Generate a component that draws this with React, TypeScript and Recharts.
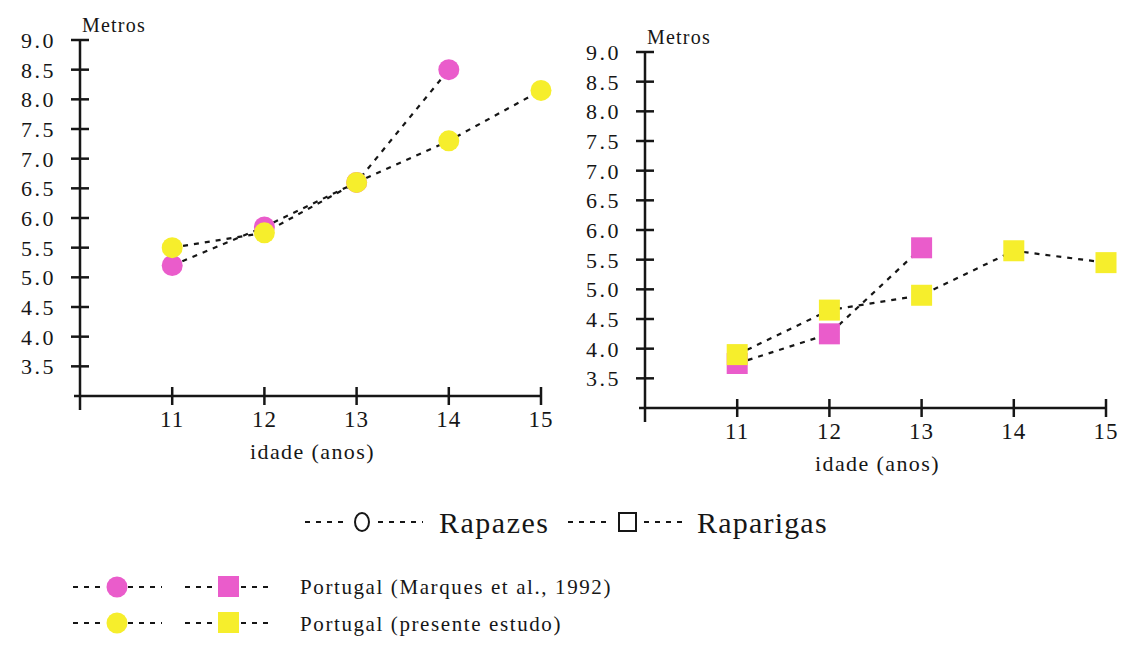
import React from "react";
import { LineChart, Line, XAxis, YAxis } from "recharts";

const ages = [11, 12, 13, 14, 15];

// Rapazes (boys), metres
const rapazesMarques = [5.2, 5.85, 6.6, 8.5, null];
const rapazesPresente = [5.5, 5.75, 6.6, 7.3, 8.15];

// Raparigas (girls), metres
const raparigasMarques = [3.75, 4.25, 5.7, null, null];
const raparigasPresente = [3.9, 4.65, 4.9, 5.65, 5.45];

const xTicks = [10, 11, 12, 13, 14, 15];
const yTicks = [3, 3.5, 4, 4.5, 5, 5.5, 6, 6.5, 7, 7.5, 8, 8.5, 9];

const PINK = "#ea5ccb";
const YELLOW = "#f6ee2c";
const INK = "#161616";
const FONT = "Liberation Serif, Tinos, Times New Roman, serif";

const toRows = (a: (number | null)[], b: (number | null)[]) =>
  ages.map((age, i) => ({ age, marques: a[i], presente: b[i] }));

const rapazesData = toRows(rapazesMarques, rapazesPresente);
const raparigasData = toRows(raparigasMarques, raparigasPresente);

const txt = (size: number, spacing: number) => ({
  fontFamily: FONT,
  fontSize: size,
  letterSpacing: spacing,
  fill: INK,
});

function YTick({ x, y, payload }: any) {
  if (payload.value === 3) {
    return <line x1={x - 6} x2={x} y1={y} y2={y} stroke={INK} strokeWidth={2.5} />;
  }
  return (
    <g>
      <line x1={x - 9} x2={x + 9} y1={y} y2={y} stroke={INK} strokeWidth={2.5} />
      <text x={x - 24} y={y} dy="0.36em" textAnchor="end" style={txt(22, 2.5)}>
        {payload.value.toFixed(1)}
      </text>
    </g>
  );
}

function XTick({ x, y, payload }: any) {
  if (payload.value === 10) {
    return <line x1={x} x2={x} y1={y} y2={y + 14} stroke={INK} strokeWidth={2.5} />;
  }
  return (
    <g>
      <line x1={x} x2={x} y1={y - 9} y2={y + 9} stroke={INK} strokeWidth={2.5} />
      <text x={x} y={y + 31} textAnchor="middle" style={txt(23, 1)}>
        {payload.value}
      </text>
    </g>
  );
}

const circleDot = (color: string) => (props: any) => {
  const { cx, cy, value, index } = props;
  if (value == null || cx == null) return <g key={index} />;
  return <circle key={index} cx={cx} cy={cy} r={10.5} fill={color} />;
};

const squareDot = (color: string) => (props: any) => {
  const { cx, cy, value, index } = props;
  if (value == null || cx == null) return <g key={index} />;
  return <rect key={index} x={cx - 10.5} y={cy - 10.5} width={21} height={21} fill={color} />;
};

const metrosLabel = (dx: number, dy: number) => (props: any) => {
  const vb = props.viewBox;
  return (
    <text x={vb.x + vb.width + dx} y={vb.y + dy} style={txt(20, 1.2)}>
      Metros
    </text>
  );
};

const xTitle = (dy: number) => (props: any) => {
  const vb = props.viewBox;
  return (
    <text x={vb.x + vb.width / 2 + 2} y={vb.y + dy} textAnchor="middle" style={txt(22, 1.4)}>
      idade (anos)
    </text>
  );
};

interface PanelProps {
  data: { age: number; marques: number | null; presente: number | null }[];
  width: number;
  height: number;
  top: number;
  right: number;
  xAxisHeight: number;
  square?: boolean;
}

function Panel({ data, width, height, top, right, xAxisHeight, square }: PanelProps) {
  const dot = square ? squareDot : circleDot;
  return (
    <LineChart
      width={width}
      height={height}
      data={data}
      margin={{ top, right, bottom: 0, left: 0 }}
    >
      <XAxis
        dataKey="age"
        type="number"
        domain={[10, 15]}
        ticks={xTicks}
        height={xAxisHeight}
        tickSize={0}
        tickMargin={0}
        tickLine={false}
        axisLine={{ stroke: INK, strokeWidth: 2.5 }}
        tick={<XTick />}
        interval={0}
        label={{ content: xTitle(63) }}
      />
      <YAxis
        type="number"
        domain={[3, 9]}
        ticks={yTicks}
        width={80}
        tickSize={0}
        tickMargin={0}
        tickLine={false}
        axisLine={{ stroke: INK, strokeWidth: 2.5 }}
        tick={<YTick />}
        interval={0}
        label={{ content: metrosLabel(2, -8) }}
      />
      <Line
        dataKey="marques"
        type="linear"
        stroke={INK}
        strokeWidth={2.2}
        strokeDasharray="5 6"
        dot={dot(PINK)}
        activeDot={false}
        isAnimationActive={false}
      />
      <Line
        dataKey="presente"
        type="linear"
        stroke={INK}
        strokeWidth={2.2}
        strokeDasharray="5 6"
        dot={dot(YELLOW)}
        activeDot={false}
        isAnimationActive={false}
      />
    </LineChart>
  );
}

function Dashes({ x1, x2, y }: { x1: number; x2: number; y: number }) {
  return (
    <line x1={x1} x2={x2} y1={y} y2={y} stroke={INK} strokeWidth={2.2} strokeDasharray="5 6" />
  );
}

function Legend() {
  return (
    <svg width={1124} height={160} style={{ position: "absolute", left: 0, top: 485 }}>
      <g transform="translate(0,-485)">
        <Dashes x1={305} x2={348} y={522} />
        <ellipse cx={362} cy={522} rx={7} ry={9} fill="none" stroke={INK} strokeWidth={2} />
        <Dashes x1={378} x2={423} y={522} />
        <text x={439} y={533} style={txt(30, 1.5)}>
          Rapazes
        </text>
        <Dashes x1={568} x2={612} y={522} />
        <rect x={619} y={513} width={17} height={18} fill="none" stroke={INK} strokeWidth={2} />
        <Dashes x1={644} x2={686} y={522} />
        <text x={697} y={533} style={txt(30, 1.2)}>
          Raparigas
        </text>

        <Dashes x1={73} x2={100} y={587} />
        <circle cx={117} cy={587} r={10.5} fill={PINK} />
        <Dashes x1={128} x2={162} y={587} />
        <Dashes x1={185} x2={212} y={587} />
        <rect x={218} y={576} width={21} height={21} fill={PINK} />
        <Dashes x1={241} x2={274} y={587} />
        <text x={300} y={594} style={txt(21, 1.6)}>
          Portugal (Marques et al., 1992)
        </text>

        <Dashes x1={73} x2={100} y={623} />
        <circle cx={117} cy={623} r={10.5} fill={YELLOW} />
        <Dashes x1={128} x2={162} y={623} />
        <Dashes x1={185} x2={212} y={623} />
        <rect x={218} y={612} width={21} height={21} fill={YELLOW} />
        <Dashes x1={241} x2={274} y={623} />
        <text x={300} y={631} style={txt(21, 1.6)}>
          Portugal (presente estudo)
        </text>
      </g>
    </svg>
  );
}

export default function App() {
  return (
    <div
      style={{
        position: "absolute",
        left: 0,
        top: 0,
        width: 1124,
        height: 645,
        background: "#fff",
        fontFamily: FONT,
      }}
    >
      <div style={{ position: "absolute", left: 0, top: 0 }}>
        <Panel data={rapazesData} width={570} height={480} top={40} right={29} xAxisHeight={84} />
      </div>
      <div style={{ position: "absolute", left: 565, top: 0 }}>
        <Panel
          data={raparigasData}
          width={559}
          height={490}
          top={52}
          right={18}
          xAxisHeight={82}
          square
        />
      </div>
      <Legend />
    </div>
  );
}
